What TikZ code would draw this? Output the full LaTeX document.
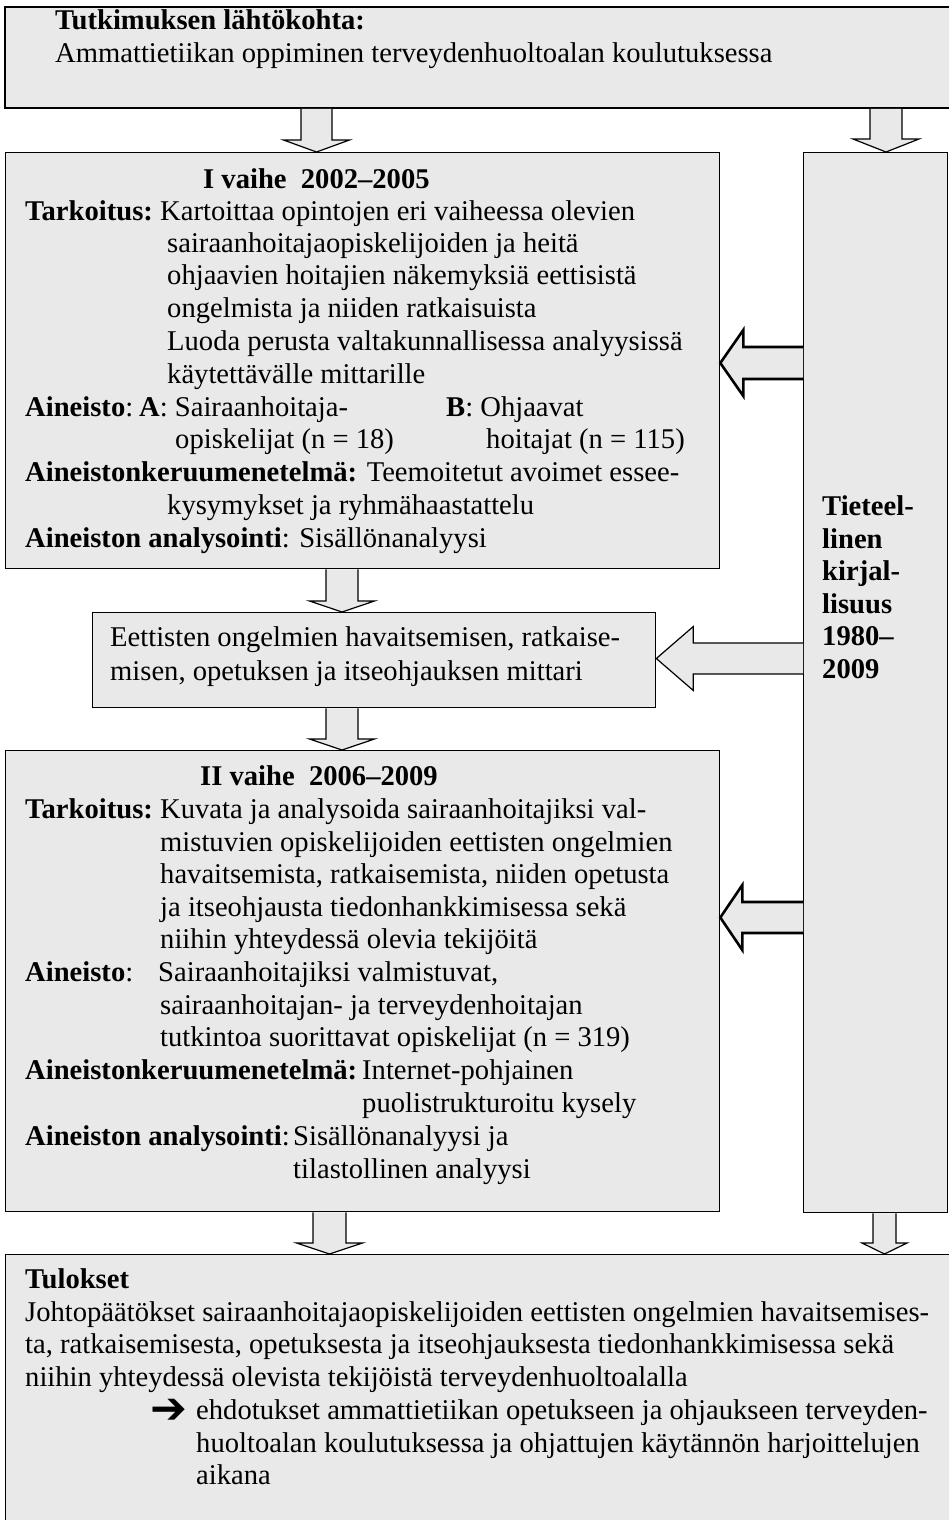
\documentclass[tikz,border=0pt]{standalone}
\usepackage{fontspec}
\setmainfont{Liberation Serif}
\newfontfamily\symfont{DejaVu Sans}
\usetikzlibrary{calc}
\definecolor{boxgray}{RGB}{233,233,233}
\tikzset{
 box/.style={draw=black, fill=boxgray, line width=1.3pt, rectangle, anchor=north west, inner sep=0pt},
 txt/.style={anchor=base west, inner sep=0pt, font=\fontsize{28.6}{33}\selectfont},
 btxt/.style={anchor=base west, inner sep=0pt, font=\fontsize{28.6}{33}\selectfont\bfseries},
 blockarrow/.style={draw=black, fill=boxgray, line width=1.2pt, line join=miter},
 thickarrow/.style={draw=black, fill=boxgray, line width=2.6pt, line join=miter},
}
\newcommand\blockdown[7]{%
 \path (#2.south -| #4) coordinate (ta) (#3.north -| #4) coordinate (tb);
 \draw[#1] ($(ta)+(-#5,0)$) -- ($(tb)+(-#5,-#7)$) -- ($(tb)+(-#6,-#7)$) -- (tb) -- ($(tb)+(#6,-#7)$) -- ($(tb)+(#5,-#7)$) -- ($(ta)+(#5,0)$);
}
\newcommand\blockleft[7]{%
 \path (#2.west |- #4) coordinate (ta) (#3.east |- #4) coordinate (tb);
 \draw[#1] ($(ta)+(0,-#5)$) -- ($(tb)+(#7,-#5)$) -- ($(tb)+(#7,-#6)$) -- (tb) -- ($(tb)+(#7,#6)$) -- ($(tb)+(#7,#5)$) -- ($(ta)+(0,#5)$);
}
\begin{document}
\begin{tikzpicture}[x=1pt,y=-1pt]
\useasboundingbox (0,0) rectangle (948,1520);
% boxes
\node[box, line width=1.8pt, minimum width=950pt, minimum height=101pt] (top) at (4,6) {};
\node[box, minimum width=714pt, minimum height=416pt] (ph1) at (5,152) {};
\node[box, minimum width=144pt, minimum height=1060pt] (lit) at (803,152) {};
\node[box, minimum width=563pt, minimum height=95pt] (mitt) at (92,612) {};
\node[box, minimum width=714pt, minimum height=461pt] (ph2) at (5,750) {};
\node[box, minimum width=950pt, minimum height=266pt] (res) at (5,1254) {};
% coordinates for arrows
\coordinate (xa) at (316.5,0);
\coordinate (xb) at (886,0);
\coordinate (xc) at (342,0);
\coordinate (xd) at (329.5,0);
\coordinate (xe) at (884.5,0);
\coordinate (ya) at (0,363);
\coordinate (yb) at (0,658.5);
\coordinate (yc) at (0,917.5);
% arrows
\blockdown{blockarrow}{top}{ph1}{xa}{15.5}{33}{12}
\blockdown{blockarrow}{top}{lit}{xb}{16}{33}{13}
\blockdown{blockarrow}{ph1}{mitt}{xc}{16}{32.5}{11}
\blockdown{blockarrow}{mitt}{ph2}{xc}{16}{32.5}{11}
\blockdown{blockarrow}{ph2}{res}{xd}{16.5}{33}{11}
\blockdown{blockarrow}{lit}{res}{xe}{11.5}{22.5}{11}
\blockleft{thickarrow}{lit}{ph1}{ya}{16}{33}{23}
\blockleft{blockarrow}{lit}{mitt}{yb}{15.5}{32}{37}
\blockleft{thickarrow}{lit}{ph2}{yc}{15.5}{32.5}{22}
% top box text
\node[btxt] (t01) at (55,30) {Tutkimuksen lähtökohta:};
\node[txt] (t02) at (55,63) {Ammattietiikan oppiminen terveydenhuoltoalan koulutuksessa};
% phase I
\node[btxt] (p101) at (203,188) {I vaihe\ \ 2002–2005};
\node[btxt] (p102) at (25,220) {Tarkoitus:};
\node[txt] (p103) at (160,220) {Kartoittaa opintojen eri vaiheessa olevien};
\node[txt] (p104) at (167,252) {sairaanhoitajaopiskelijoiden ja heitä};
\node[txt] (p105) at (167,284) {ohjaavien hoitajien näkemyksiä eettisistä};
\node[txt] (p106) at (167,317) {ongelmista ja niiden ratkaisuista};
\node[txt] (p107) at (167,350) {Luoda perusta valtakunnallisessa analyysissä};
\node[txt] (p108) at (167,383) {käytettävälle mittarille};
\node[txt] (p109) at (25,416) {\textbf{Aineisto}:};
\node[txt] (p110) at (139,416) {\textbf{A}: Sairaanhoitaja-};
\node[txt] (p111) at (446,416) {\textbf{B}: Ohjaavat};
\node[txt] (p112) at (175,448) {opiskelijat (n = 18)};
\node[txt] (p113) at (486,448) {hoitajat (n = 115)};
\node[txt] (p114) at (25,481) {\textbf{Aineistonkeruumenetelmä:} Teemoitetut avoimet essee-};
\node[txt] (p115) at (167,514) {kysymykset ja ryhmähaastattelu};
\node[txt] (p116) at (25,547) {\textbf{Aineiston analysointi}: Sisällönanalyysi};
% mittari
\node[txt] (m01) at (110,646) {Eettisten ongelmien havaitsemisen, ratkaise-};
\node[txt] (m02) at (110,680) {misen, opetuksen ja itseohjauksen mittari};
% literature
\node[btxt] (l01) at (822,515) {Tieteel-};
\node[btxt] (l02) at (822,548) {linen};
\node[btxt] (l03) at (822,580) {kirjal-};
\node[btxt] (l04) at (822,613) {lisuus};
\node[btxt] (l05) at (822,645) {1980–};
\node[btxt] (l06) at (822,678) {2009};
% phase II
\node[btxt] (p201) at (200,785) {II vaihe\ \ 2006–2009};
\node[btxt] (p202) at (25,818) {Tarkoitus:};
\node[txt] (p203) at (160,818) {Kuvata ja analysoida sairaanhoitajiksi val-};
\node[txt] (p204) at (160,851) {mistuvien opiskelijoiden eettisten ongelmien};
\node[txt] (p205) at (160,883) {havaitsemista, ratkaisemista, niiden opetusta};
\node[txt] (p206) at (160,916) {ja itseohjausta tiedonhankkimisessa sekä};
\node[txt] (p207) at (160,948) {niihin yhteydessä olevia tekijöitä};
\node[txt] (p208) at (25,981) {\textbf{Aineisto}:};
\node[txt] (p209) at (158,981) {Sairaanhoitajiksi valmistuvat,};
\node[txt] (p210) at (160,1014) {sairaanhoitajan- ja terveydenhoitajan};
\node[txt] (p211) at (160,1046) {tutkintoa suorittavat opiskelijat (n = 319)};
\node[btxt] (p212) at (25,1079) {Aineistonkeruumenetelmä:};
\node[txt] (p213) at (362,1079) {Internet-pohjainen};
\node[txt] (p214) at (362,1112) {puolistrukturoitu kysely};
\node[txt] (p215) at (25,1145) {\textbf{Aineiston analysointi}:};
\node[txt] (p216) at (293,1145) {Sisällönanalyysi ja};
\node[txt] (p217) at (293,1178) {tilastollinen analyysi};
% results
\node[btxt] (r01) at (25,1288) {Tulokset};
\node[txt] (r02) at (25,1321) {Johtopäätökset sairaanhoitajaopiskelijoiden eettisten ongelmien havaitsemises-};
\node[txt] (r03) at (25,1353) {ta, ratkaisemisesta, opetuksesta ja itseohjauksesta tiedonhankkimisessa sekä};
\node[txt] (r04) at (25,1386) {niihin yhteydessä olevista tekijöistä terveydenhuoltoalalla};
\node[anchor=center, inner sep=0pt, font=\fontsize{44}{48}\symfont\bfseries] (r05) at (168.5,1411.5) {➔};
\node[txt] (r06) at (196,1419) {ehdotukset ammattietiikan opetukseen ja ohjaukseen terveyden-};
\node[txt] (r07) at (196,1452) {huoltoalan koulutuksessa ja ohjattujen käytännön harjoittelujen};
\node[txt] (r08) at (196,1484) {aikana};
\end{tikzpicture}
\end{document}
